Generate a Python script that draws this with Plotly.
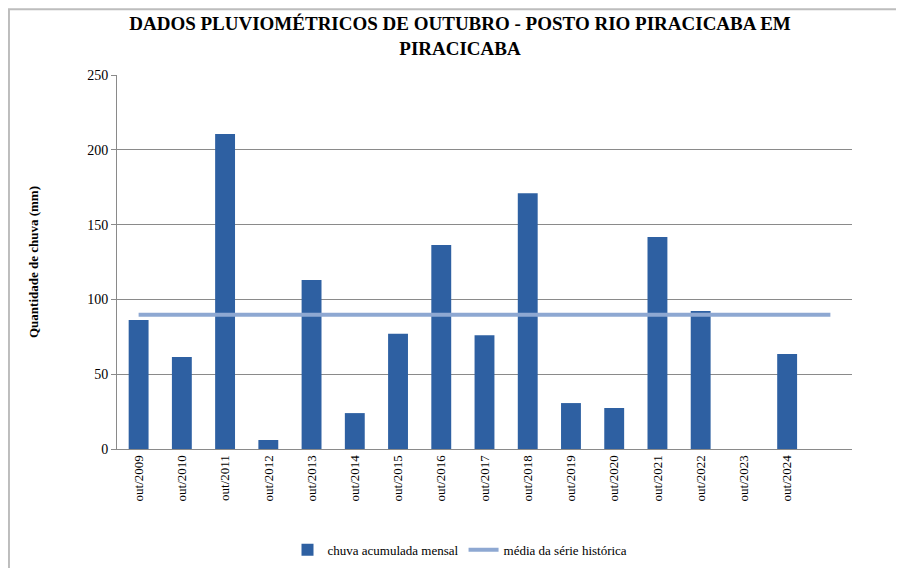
import plotly.graph_objects as go

# chuva acumulada em outubro (mm), posto Rio Piracicaba
meses = ["out/2009", "out/2010", "out/2011", "out/2012", "out/2013", "out/2014",
         "out/2015", "out/2016", "out/2017", "out/2018", "out/2019", "out/2020",
         "out/2021", "out/2022", "out/2023", "out/2024", " "]
chuva = [86.2, 61.5, 210.6, 6.0, 113.0, 24.0, 77.0, 136.4, 76.0, 171.0,
         30.7, 27.4, 141.7, 92.2, 0.0, 63.5, None]
media_historica = 89.7

SERIF = "Liberation Serif"

fig = go.Figure()
fig.add_trace(go.Bar(x=meses, y=chuva, name="chuva acumulada mensal",
                     marker=dict(color="#2E60A2", line=dict(width=0))))
fig.add_trace(go.Scatter(x=[meses[0], meses[-1]], y=[media_historica, media_historica],
                         mode="lines", name="média da série histórica",
                         line=dict(color="#8EA8D2", width=4)))

# moldura externa do gráfico (cinza claro, como no Excel)
fig.add_shape(type="rect", xref="paper", yref="paper", x0=-0.147, x1=1.064, y0=-0.4, y1=1.176,
              line=dict(color="#BDBDBD", width=2), layer="below")

# a página tem 8 px de margem no body: margens compensadas
fig.update_layout(
    width=904, height=568,
    margin=dict(l=109, r=60, t=67, b=127, autoexpand=False),
    paper_bgcolor="white", plot_bgcolor="white",
    font=dict(family=SERIF, color="black", size=13),
    title=dict(text="<b>DADOS PLUVIOMÉTRICOS DE OUTUBRO - POSTO RIO PIRACICABA EM<br>PIRACICABA</b>",
               x=0.5, xanchor="center", y=0.961, yanchor="top",
               font=dict(family=SERIF, size=19, color="black")),
    bargap=0.54,
    showlegend=True,
    legend=dict(orientation="h", x=0.5, xanchor="center", xref="container",
                y=0.046, yanchor="middle", yref="container",
                font=dict(family=SERIF, size=13), traceorder="normal"),
    xaxis=dict(type="category", tickangle=-90, showgrid=False, showline=True, automargin=False,
               linecolor="#8A8A8A", linewidth=1, ticks="", tickfont=dict(size=13)),
    yaxis=dict(range=[0, 250], dtick=50, showgrid=True, gridcolor="#8A8A8A", gridwidth=1,
               showline=True, linecolor="#8A8A8A", linewidth=1, ticks="outside", automargin=False,
               ticklen=5, tickcolor="#8A8A8A", zeroline=False, tickfont=dict(size=14),
               title=dict(text="<b>Quantidade de chuva (mm)</b>", font=dict(size=13), standoff=45)),
)

fig.write_html("out.html")
